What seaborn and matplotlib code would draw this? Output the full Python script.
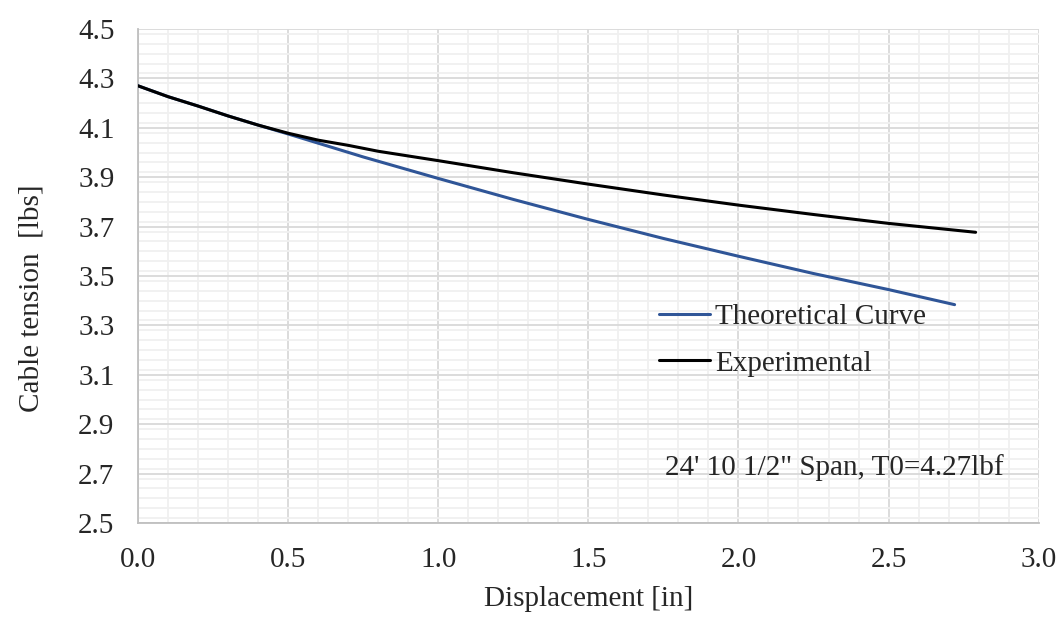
import matplotlib
matplotlib.use("Agg")
import matplotlib.pyplot as plt
from matplotlib.ticker import MultipleLocator, FixedLocator, FormatStrFormatter
import seaborn as sns
import pandas as pd

theo_x = [0.0, 0.1, 0.2, 0.3, 0.4, 0.5, 0.75, 1.0, 1.25, 1.5, 1.75, 2.0, 2.25, 2.5, 2.72]
theo_y = [4.27, 4.226, 4.188, 4.148, 4.111, 4.075, 3.982, 3.895, 3.810, 3.729, 3.652, 3.580, 3.510, 3.445, 3.384]

exp_x = [0.0, 0.1, 0.2, 0.3, 0.4, 0.5, 0.6, 0.7, 0.8, 0.9, 1.0, 1.25, 1.5, 1.75, 2.0, 2.25, 2.5, 2.79]
exp_y = [4.27, 4.226, 4.188, 4.148, 4.111, 4.078, 4.05, 4.029, 4.005, 3.986, 3.967, 3.918, 3.872, 3.828, 3.787, 3.749, 3.713, 3.677]

x_ticks = [0.0, 0.5, 1.0, 1.5, 2.0, 2.5, 3.0]
y_ticks = [2.5, 2.7, 2.9, 3.1, 3.3, 3.5, 3.7, 3.9, 4.1, 4.3, 4.5]

series_names = ["Theoretical Curve", "Experimental"]
x_label = "Displacement [in]"
y_label = "Cable tension  [lbs]"
note = "24' 10 1/2\" Span, T0=4.27lbf"

df = pd.concat([
    pd.DataFrame({"x": theo_x, "y": theo_y, "series": series_names[0]}),
    pd.DataFrame({"x": exp_x, "y": exp_y, "series": series_names[1]}),
], ignore_index=True)

sns.set_style("white")
plt.rcParams["font.family"] = ["Liberation Serif", "DejaVu Serif"]

FS = 21

fig = plt.figure(figsize=(10.62, 6.25), dpi=100)
ax = fig.add_axes([0.130, 0.1632, 0.848, 0.7904])

sns.lineplot(data=df, x="x", y="y", hue="series", sort=False,
             palette={series_names[0]: "#2f5597", series_names[1]: "#000000"},
             linewidth=2.2, ax=ax, estimator=None, zorder=3)

ax.set_xlim(x_ticks[0], x_ticks[-1])
ax.set_ylim(y_ticks[0], y_ticks[-1])
ax.xaxis.set_major_locator(FixedLocator(x_ticks))
ax.xaxis.set_minor_locator(MultipleLocator(0.1))
ax.yaxis.set_major_locator(FixedLocator(y_ticks))
ax.yaxis.set_minor_locator(MultipleLocator(0.04))
ax.xaxis.set_major_formatter(FormatStrFormatter("%.1f"))
ax.yaxis.set_major_formatter(FormatStrFormatter("%.1f"))

ax.grid(which="major", color="#d9d9d9", linewidth=1.3, zorder=1)
ax.grid(which="minor", color="#f0f0f0", linewidth=1.3, zorder=0)
ax.set_axisbelow(True)

for s in ["top", "right"]:
    ax.spines[s].set_visible(False)
for s in ["left", "bottom"]:
    ax.spines[s].set_color("#bfbfbf")
    ax.spines[s].set_linewidth(1.3)

ax.tick_params(axis="both", which="both", length=0, labelsize=FS)
ax.tick_params(axis="x", pad=17)
ax.tick_params(axis="y", pad=17)

ax.set_xlabel(x_label, fontsize=FS, labelpad=10)
ax.set_ylabel(y_label, fontsize=FS)
ax.yaxis.set_label_coords(-0.104, 0.455)

ax.legend(loc="upper left", bbox_to_anchor=(0.565, 0.467), frameon=False,
          fontsize=FS, handlelength=1.75, handletextpad=0.2, labelspacing=0.68,
          borderaxespad=0)

ax.text(0.585, 0.113, note, transform=ax.transAxes, fontsize=FS,
        ha="left", va="center")

fig.savefig("out.png", dpi=100)
